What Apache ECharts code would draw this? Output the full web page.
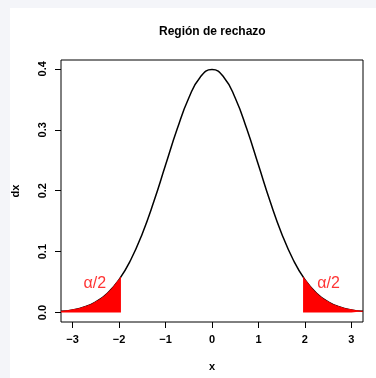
<!DOCTYPE html>
<html>
<head>
<meta charset="utf-8">
<title>Región de rechazo</title>
<script src="https://cdn.jsdelivr.net/npm/echarts@6/dist/echarts.min.js"></script>
<style>
  html, body { margin: 0; padding: 0; width: 376px; height: 378px; background: #f4f5f9; overflow: hidden; }
  #chart { position: absolute; left: 10px; top: 8px; width: 366px; height: 370px; background: #ffffff; }
</style>
</head>
<body>
<div id="chart"></div>
<script>
// Standard normal density, sampled every 0.25
const xValues = [-3.25, -3, -2.75, -2.5, -2.25, -2, -1.75, -1.5, -1.25, -1, -0.75, -0.5, -0.25,
                 0, 0.25, 0.5, 0.75, 1, 1.25, 1.5, 1.75, 2, 2.25, 2.5, 2.75, 3, 3.25];
const density = [0.0020, 0.0044, 0.0091, 0.0175, 0.0317, 0.0540, 0.0863, 0.1295, 0.1826, 0.2420, 0.3011, 0.3521, 0.3867,
                 0.3989, 0.3867, 0.3521, 0.3011, 0.2420, 0.1826, 0.1295, 0.0863, 0.0540, 0.0317, 0.0175, 0.0091, 0.0044, 0.0020];

// Critical value (two-sided, alpha = 0.05) and the density there
const criticalX = 1.96;
const criticalDensity = 0.0584;

// Axis ticks
const xTicks = [-3, -2, -1, 0, 1, 2, 3];
const yTicks = [0, 0.1, 0.2, 0.3, 0.4];

// Tail annotations
const tailLabel = 'α/2';
const tailLabelPos = [[-2.52, 0.047], [2.51, 0.048]];

const curve = xValues.map((x, i) => [x, density[i]]);
const leftTail = curve.filter(p => p[0] <= -criticalX).concat([[-criticalX, criticalDensity]]);
const rightTail = [[criticalX, criticalDensity]].concat(curve.filter(p => p[0] >= criticalX));

const font = '"Liberation Sans", Arial, Helvetica, sans-serif';
const minus = v => String(v).replace('-', '\u2212');

const chart = echarts.init(document.getElementById('chart'), null, { renderer: 'canvas' });

const tailSeries = data => ({
  type: 'line',
  data: data,
  smooth: true,
  symbol: 'none',
  z: 3,
  lineStyle: { color: '#ff0000', width: 1 },
  areaStyle: { color: '#ff0000', opacity: 1, origin: 0 },
  silent: true
});

chart.setOption({
  backgroundColor: '#ffffff',
  animation: false,
  title: {
    text: 'Región de rechazo',
    left: 144,
    top: 13,
    textStyle: { fontFamily: font, fontSize: 12, fontWeight: 'bold', color: '#000' }
  },
  grid: {
    left: 51, top: 52, right: 13, bottom: 56,
    containLabel: false,
    outerBoundsMode: 'none',
    show: true, borderColor: '#000', borderWidth: 1, backgroundColor: 'transparent'
  },
  xAxis: {
    type: 'value',
    min: -3.25, max: 3.25,
    name: 'x',
    nameLocation: 'middle',
    nameGap: 39,
    nameTextStyle: { fontFamily: font, fontSize: 11, fontWeight: 'bold', color: '#000' },
    axisLine: { show: false, onZero: false },
    splitLine: { show: false },
    axisTick: { show: true, inside: false, length: 6, lineStyle: { color: '#000', width: 1 }, customValues: xTicks },
    axisLabel: {
      show: true, margin: 12, customValues: xTicks,
      formatter: v => minus(v),
      fontFamily: font, fontSize: 11, fontWeight: 'bold', color: '#000'
    }
  },
  yAxis: {
    type: 'value',
    min: -0.0155, max: 0.4145,
    name: 'dx',
    nameLocation: 'middle',
    nameGap: 40,
    nameTextStyle: { fontFamily: font, fontSize: 11, fontWeight: 'bold', color: '#000' },
    axisLine: { show: false, onZero: false },
    splitLine: { show: false },
    axisTick: { show: true, inside: false, length: 6, lineStyle: { color: '#000', width: 1 }, customValues: yTicks },
    axisLabel: {
      show: true, margin: 13, rotate: 90, customValues: yTicks,
      formatter: v => v.toFixed(1),
      fontFamily: font, fontSize: 11, fontWeight: 'bold', color: '#000'
    }
  },
  series: [
    {
      type: 'line',
      data: curve,
      smooth: true,
      symbol: 'none',
      z: 2,
      lineStyle: { color: '#000', width: 1.5 },
      silent: true
    },
    tailSeries(leftTail),
    tailSeries(rightTail),
    {
      type: 'scatter',
      data: tailLabelPos,
      symbolSize: 0,
      z: 5,
      silent: true,
      label: {
        show: true, position: 'inside', formatter: tailLabel,
        fontFamily: font, fontSize: 16, color: '#ff0000'
      }
    }
  ]
});
</script>
</body>
</html>
